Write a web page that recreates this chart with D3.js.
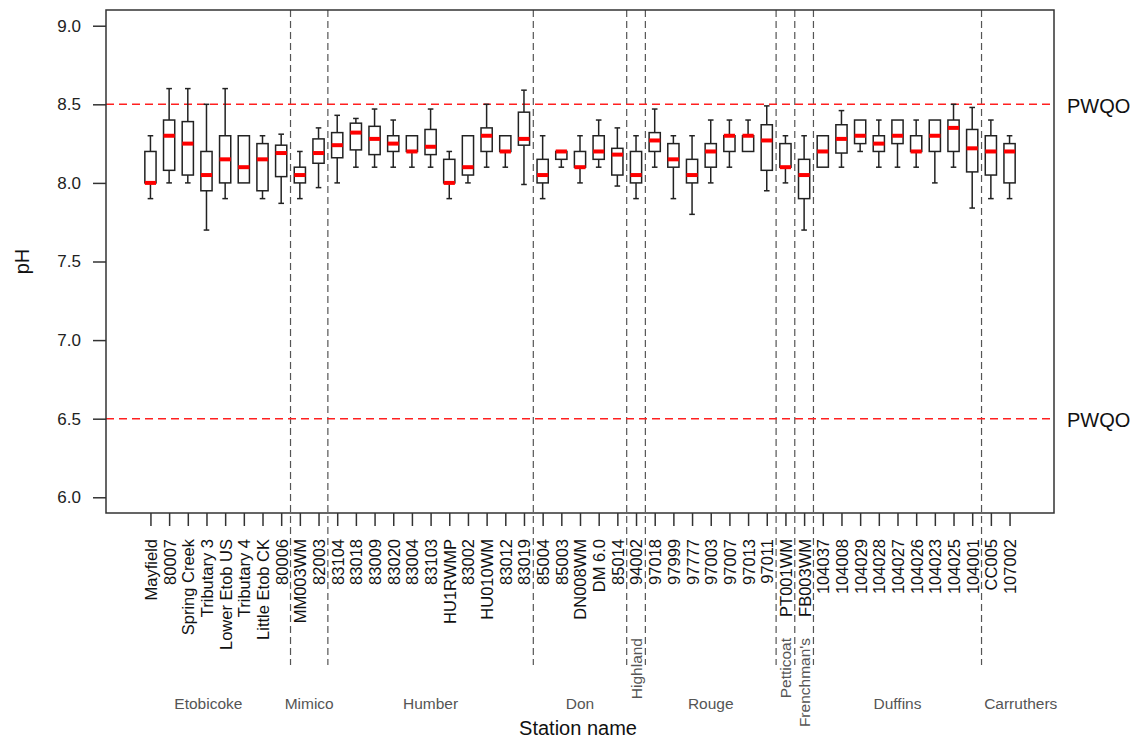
<!DOCTYPE html>
<html>
<head>
<meta charset="utf-8">
<script src="https://cdn.jsdelivr.net/npm/d3@7"></script>
<style>
	body { margin: 0; background: #fff; }
	svg { display: block; font-family: "Liberation Sans", Arial, sans-serif; }
</style>
</head>
<body>
<script>
//////////////////////////////////////////////
// Data //////////////////////////////////////
//////////////////////////////////////////////
var stations = [
	"Mayfield", "80007", "Spring Creek", "Tributary 3", "Lower Etob US", "Tributary 4", "Little Etob CK", "80006",
	"MM003WM", "82003",
	"83104", "83018", "83009", "83020", "83004", "83103", "HU1RWMP", "83002", "HU010WM", "83012", "83019",
	"85004", "85003", "DN008WM", "DM 6.0", "85014",
	"94002",
	"97018", "97999", "97777", "97003", "97007", "97013", "97011",
	"PT001WM",
	"FB003WM",
	"104037", "104008", "104029", "104028", "104027", "104026", "104023", "104025", "104001",
	"CC005", "107002"
];

// watersheds, in station order
var groupNames = ["Etobicoke", "Mimico", "Humber", "Don", "Highland", "Rouge", "Petticoat", "Frenchman's", "Duffins", "Carruthers"];
var groupSizes = [8, 2, 11, 5, 1, 7, 1, 1, 9, 2];
var groupLabelAt = [4.1, 9.5, 16, 24, 27, 31, 35, 36, 41, 47.6];

// box statistics, pH
var whiskerLow = [7.9, 8.0, 8.0, 7.7, 7.9, 8.0, 7.9, 7.87,
	7.9, 7.97,
	8.0, 8.1, 8.1, 8.1, 8.1, 8.1, 7.9, 8.0, 8.1, 8.1, 7.99,
	7.9, 8.1, 8.0, 8.1, 7.98,
	7.9,
	8.1, 7.9, 7.8, 8.0, 8.1, 8.2, 7.95,
	8.0,
	7.7,
	8.1, 8.1, 8.2, 8.1, 8.1, 8.1, 8.0, 8.1, 7.84,
	7.9, 7.9];
var q1 = [8.0, 8.08, 8.05, 7.95, 8.0, 8.0, 7.95, 8.04,
	8.0, 8.125,
	8.16, 8.21, 8.18, 8.2, 8.2, 8.18, 8.0, 8.05, 8.2, 8.2, 8.24,
	8.0, 8.15, 8.1, 8.15, 8.05,
	8.0,
	8.2, 8.1, 8.0, 8.1, 8.2, 8.2, 8.08,
	8.1,
	7.9,
	8.1, 8.19, 8.25, 8.2, 8.25, 8.2, 8.2, 8.2, 8.07,
	8.05, 8.0];
var median = [8.0, 8.3, 8.25, 8.05, 8.15, 8.1, 8.15, 8.19,
	8.05, 8.19,
	8.24, 8.32, 8.28, 8.25, 8.2, 8.23, 8.0, 8.1, 8.3, 8.2, 8.28,
	8.05, 8.2, 8.1, 8.2, 8.18,
	8.05,
	8.27, 8.15, 8.05, 8.2, 8.3, 8.3, 8.27,
	8.1,
	8.05,
	8.2, 8.28, 8.3, 8.25, 8.3, 8.2, 8.3, 8.35, 8.22,
	8.2, 8.2];
var q3 = [8.2, 8.4, 8.39, 8.2, 8.3, 8.3, 8.25, 8.24,
	8.1, 8.28,
	8.32, 8.38, 8.36, 8.3, 8.3, 8.34, 8.15, 8.3, 8.35, 8.3, 8.45,
	8.15, 8.2, 8.2, 8.3, 8.22,
	8.2,
	8.32, 8.25, 8.15, 8.25, 8.3, 8.3, 8.37,
	8.25,
	8.15,
	8.3, 8.37, 8.4, 8.3, 8.4, 8.3, 8.4, 8.4, 8.34,
	8.3, 8.25];
var whiskerHigh = [8.3, 8.6, 8.6, 8.5, 8.6, 8.3, 8.3, 8.31,
	8.2, 8.35,
	8.43, 8.41, 8.47, 8.4, 8.3, 8.47, 8.2, 8.3, 8.5, 8.3, 8.59,
	8.3, 8.2, 8.3, 8.4, 8.35,
	8.3,
	8.47, 8.3, 8.3, 8.4, 8.4, 8.4, 8.49,
	8.3,
	8.3,
	8.3, 8.46, 8.4, 8.4, 8.4, 8.4, 8.4, 8.5, 8.48,
	8.4, 8.3];

var yTicks = [6.0, 6.5, 7.0, 7.5, 8.0, 8.5, 9.0];
var pwqo = [8.5, 6.5];

//////////////////////////////////////////////
// Chart Config //////////////////////////////
//////////////////////////////////////////////
var width = 1136, height = 740;
var plot = {left: 106, right: 1054, top: 10, bottom: 513};

var xScale = d3.scaleLinear()
	.domain([-1.38, stations.length + 2.38])
	.range([plot.left, plot.right]);
var yScale = d3.scaleLinear()
	.domain([5.9, 9.1])
	.range([plot.bottom, plot.top]);

var boxHalf = (xScale(1.3) - xScale(1)); // box width 0.6 units
var capHalf = boxHalf / 2;

var svg = d3.select("body")
	.append("svg")
	.attr("width", width)
	.attr("height", height);

//////////////////////////////////////////////
// Drawing ///////////////////////////////////
//////////////////////////////////////////////

// watershed boundaries
var bounds = [];
var acc = 0;
groupSizes.forEach(function(n, i) {
	acc += n;
	if (i < groupSizes.length - 1) bounds.push(acc + 0.5);
});

svg.append("g").selectAll("line")
	.data(bounds)
	.enter().append("line")
	.attr("x1", function(d) { return xScale(d); })
	.attr("x2", function(d) { return xScale(d); })
	.attr("y1", plot.top)
	.attr("y2", 665)
	.style("stroke", "#555")
	.style("stroke-width", 1.2)
	.style("stroke-dasharray", "7,4");

// PWQO lines
svg.append("g").selectAll("line")
	.data(pwqo)
	.enter().append("line")
	.attr("x1", plot.left)
	.attr("x2", plot.right)
	.attr("y1", function(d) { return yScale(d); })
	.attr("y2", function(d) { return yScale(d); })
	.style("stroke", "#ff2020")
	.style("stroke-width", 1.4)
	.style("stroke-dasharray", "8,5");

svg.append("g").selectAll("text")
	.data(pwqo)
	.enter().append("text")
	.attr("x", 1067)
	.attr("y", function(d) { return yScale(d); })
	.attr("dy", "0.42em")
	.style("font-size", "20px")
	.style("fill", "#111")
	.text("PWQO");

// boxes
var boxes = svg.append("g").selectAll("g")
	.data(stations.map(function(s, i) {
		return {pos: i + 1, lo: whiskerLow[i], q1: q1[i], med: median[i], q3: q3[i], hi: whiskerHigh[i]};
	}))
	.enter().append("g");

var boxStroke = "#222";

// whiskers
boxes.append("line")
	.attr("x1", function(d) { return xScale(d.pos); })
	.attr("x2", function(d) { return xScale(d.pos); })
	.attr("y1", function(d) { return yScale(d.hi); })
	.attr("y2", function(d) { return yScale(d.q3); })
	.style("stroke", boxStroke).style("stroke-width", 1.5);
boxes.append("line")
	.attr("x1", function(d) { return xScale(d.pos); })
	.attr("x2", function(d) { return xScale(d.pos); })
	.attr("y1", function(d) { return yScale(d.q1); })
	.attr("y2", function(d) { return yScale(d.lo); })
	.style("stroke", boxStroke).style("stroke-width", 1.5);

// staples
boxes.filter(function(d) { return d.hi > d.q3; }).append("line")
	.attr("x1", function(d) { return xScale(d.pos) - capHalf; })
	.attr("x2", function(d) { return xScale(d.pos) + capHalf; })
	.attr("y1", function(d) { return yScale(d.hi); })
	.attr("y2", function(d) { return yScale(d.hi); })
	.style("stroke", boxStroke).style("stroke-width", 1.5);
boxes.filter(function(d) { return d.lo < d.q1; }).append("line")
	.attr("x1", function(d) { return xScale(d.pos) - capHalf; })
	.attr("x2", function(d) { return xScale(d.pos) + capHalf; })
	.attr("y1", function(d) { return yScale(d.lo); })
	.attr("y2", function(d) { return yScale(d.lo); })
	.style("stroke", boxStroke).style("stroke-width", 1.5);

// box body
boxes.append("rect")
	.attr("x", function(d) { return xScale(d.pos) - boxHalf; })
	.attr("width", boxHalf * 2)
	.attr("y", function(d) { return yScale(d.q3); })
	.attr("height", function(d) { return yScale(d.q1) - yScale(d.q3); })
	.style("fill", "#fff")
	.style("stroke", boxStroke)
	.style("stroke-width", 1.5);

// median
boxes.append("line")
	.attr("x1", function(d) { return xScale(d.pos) - boxHalf; })
	.attr("x2", function(d) { return xScale(d.pos) + boxHalf; })
	.attr("y1", function(d) { return yScale(d.med); })
	.attr("y2", function(d) { return yScale(d.med); })
	.style("stroke", "#ff0000")
	.style("stroke-width", 4);

// plot frame
svg.append("rect")
	.attr("x", plot.left)
	.attr("y", plot.top)
	.attr("width", plot.right - plot.left)
	.attr("height", plot.bottom - plot.top)
	.style("fill", "none")
	.style("stroke", "#333")
	.style("stroke-width", 1.5);

// Y axis
var yAxis = d3.axisLeft(yScale)
	.tickValues(yTicks)
	.tickFormat(d3.format(".1f"))
	.tickSize(13)
	.tickPadding(12);
var yAxisEl = svg.append("g")
	.attr("transform", "translate(" + plot.left + ",0)")
	.call(yAxis);
yAxisEl.select(".domain").remove();
yAxisEl.selectAll("line").style("stroke", "#333").style("stroke-width", 1.5);
yAxisEl.selectAll("text")
	.style("font-family", "Liberation Sans, Arial, sans-serif")
	.style("font-size", "17px")
	.style("fill", "#222");

// X axis
var xAxis = d3.axisBottom(xScale)
	.tickValues(d3.range(1, stations.length + 1))
	.tickFormat(function(d) { return stations[d - 1]; })
	.tickSize(13);
var xAxisEl = svg.append("g")
	.attr("transform", "translate(0," + plot.bottom + ")")
	.call(xAxis);
xAxisEl.select(".domain").remove();
xAxisEl.selectAll("line").style("stroke", "#333").style("stroke-width", 1.5);
xAxisEl.selectAll("text")
	.attr("transform", "rotate(-90)")
	.attr("text-anchor", "end")
	.attr("x", -26)
	.attr("y", 0)
	.attr("dy", "0.36em")
	.style("font-family", "Liberation Sans, Arial, sans-serif")
	.style("font-size", "16.5px")
	.style("fill", "#111");

// watershed labels
var groupLabels = svg.append("g").selectAll("text")
	.data(groupNames.map(function(name, i) { return {name: name, at: groupLabelAt[i], small: groupSizes[i] === 1}; }))
	.enter().append("text")
	.style("font-size", "15.5px")
	.style("fill", "#555")
	.text(function(d) { return d.name; });

groupLabels.filter(function(d) { return !d.small; })
	.attr("x", function(d) { return xScale(d.at); })
	.attr("y", 709)
	.attr("text-anchor", "middle");

groupLabels.filter(function(d) { return d.small; })
	.attr("text-anchor", "end")
	.attr("transform", function(d) { return "translate(" + xScale(d.at) + ",638) rotate(-90)"; })
	.attr("dy", "0.36em");

// axis titles
svg.append("text")
	.attr("x", (plot.left + plot.right) / 2 - 2)
	.attr("y", 735)
	.attr("text-anchor", "middle")
	.style("font-size", "20px")
	.style("fill", "#111")
	.text("Station name");

svg.append("text")
	.attr("transform", "translate(22," + ((plot.top + plot.bottom) / 2) + ") rotate(-90)")
	.attr("text-anchor", "middle")
	.attr("dy", "0.36em")
	.style("font-size", "20px")
	.style("fill", "#111")
	.text("pH");
</script>
</body>
</html>
